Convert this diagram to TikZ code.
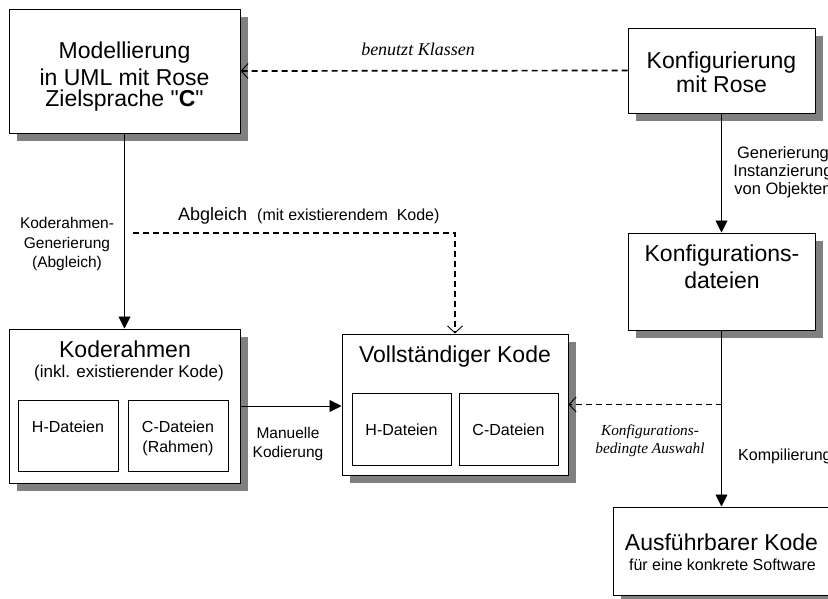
\documentclass[tikz,border=0pt]{standalone}
\usepackage{fontspec}
\setmainfont{Liberation Sans}
% second family without the TeX input mapping, for straight quotes
\newfontfamily\rawsans{Liberation Sans}
\newfontfamily\serifit{Liberation Serif}[ItalicFont={Liberation Serif Italic}]
\usetikzlibrary{arrows.meta,shadows,calc}

% font sizes used in the chart
\newcommand\fsTitle{\fontsize{23}{27}\selectfont}
\newcommand\fsSub{\fontsize{17}{20}\selectfont}
\newcommand\fsFile{\fontsize{16}{19}\selectfont}
\newcommand\fsLab{\fontsize{15.5}{18}\selectfont}
\newcommand\squote{{\rawsans\symbol{34}}}

\tikzset{
  box/.style={draw, line width=1pt, fill=white, rectangle, inner sep=0pt,
    general shadow={fill=black!50, shadow xshift=8pt, shadow yshift=-8pt}},
  filebox/.style={draw, line width=0.9pt, fill=white, rectangle, inner sep=0pt},
  txt/.style={anchor=base, inner sep=0pt},
  flow/.style={line width=0.9pt, -{Triangle[length=12pt,width=12pt]}},
  uses/.style={line width=1.7pt, dash pattern=on 6pt off 4pt,
    -{Straight Barb[length=7pt,width=15pt,line width=0.9pt]}},
  ital/.style={txt, font=\serifit\itshape},
}

\begin{document}
\begin{tikzpicture}[x=1pt, y=-1pt]
\useasboundingbox (0,0) rectangle (828,598);
\clip (0,0) rectangle (828,598);

% ---------- boxes ----------
\node[box, minimum width=231pt, minimum height=124pt] (mod) at (124.5,71) {};
\node[box, minimum width=187pt, minimum height=85pt] (konf) at (721.5,70.5) {};
\node[box, minimum width=187pt, minimum height=97pt] (kdat) at (721.5,281.5) {};
\node[box, minimum width=231pt, minimum height=154pt] (kr) at (124.5,406) {};
\node[box, minimum width=226pt, minimum height=141pt] (vk) at (455,404.5) {};
\node[box, minimum width=219pt, minimum height=88pt] (aus) at (722.5,551) {};

\node[filebox, minimum width=100pt, minimum height=71pt] (krh) at (68,435.5) {};
\node[filebox, minimum width=100pt, minimum height=71pt] (krc) at (178,435.5) {};
\node[filebox, minimum width=99pt, minimum height=72pt] (vkh) at (401.5,429) {};
\node[filebox, minimum width=99pt, minimum height=72pt] (vkc) at (508.5,429) {};

% ---------- box texts ----------
\node[txt, font=\fsTitle] (mod1) at (124.5,58) {Modellierung};
\node[txt, font=\fsTitle] (mod2) at (124.5,85) {in UML mit Rose};
\node[txt, font=\fsTitle] (mod3) at (124.5,106.5) {Zielsprache \squote\textbf{C}\squote};

\node[txt, font=\fsTitle] (konf1) at (721.5,68) {Konfigurierung};
\node[txt, font=\fsTitle] (konf2) at (721.5,92) {mit Rose};

\node[txt, font=\fsTitle] (kdat1) at (722,261) {Konfigurations-};
\node[txt, font=\fsTitle] (kdat2) at (722,288) {dateien};

\node[txt, font=\fsTitle] (kr1) at (125,357) {Koderahmen};
\node[txt, font=\fsSub] (kr2) at (129,377) {(inkl. existierender Kode)};
\node[txt, font=\fsFile] (krh1) at (68,432) {H-Dateien};
\node[txt, font=\fsFile] (krc1) at (178,432) {C-Dateien};
\node[txt, font=\fsFile] (krc2) at (178,452) {(Rahmen)};

\node[txt, font=\fsTitle] (vk1) at (455,362) {Vollständiger Kode};
\node[txt, font=\fsFile] (vkh1) at (401.5,435) {H-Dateien};
\node[txt, font=\fsFile] (vkc1) at (508.5,435) {C-Dateien};

\node[txt, font=\fsTitle] (aus1) at (721.5,550) {Ausführbarer Kode};
\node[txt, font=\fsFile] (aus2) at (722.5,570) {für eine konkrete Software};

% ---------- connectors ----------
\draw[uses] (konf.west) -- (mod.east);
\draw[flow] (mod.south) -- (kr.north);
\coordinate (abg) at (133,233);
\draw[uses] (abg) -| (vk.north);
\draw[flow] (kr.east) -- (kr.east -| vk.west);
\draw[flow] (konf.south) -- (kdat.north);
\draw[flow] (kdat.south) -- (kdat.south |- aus.north);
\coordinate (tap) at (kdat.south |- vk.east);
\draw[uses] (tap) -- (vk.east);

% ---------- connector labels ----------
\node[ital, font=\serifit\itshape\fontsize{18}{21}\selectfont] (lbk) at (418,55) {benutzt Klassen};

\node[txt, font=\fsLab] (lkg1) at (67,228) {Koderahmen-};
\node[txt, font=\fsLab] (lkg2) at (67,248) {Generierung};
\node[txt, font=\fsLab] (lkg3) at (67,267) {(Abgleich)};

\node[txt, anchor=base west, font=\fontsize{18}{21}\selectfont] (labg1) at (178,220) {Abgleich};
\node[txt, anchor=base west, font=\fontsize{16}{19}\selectfont] (labg2) at (257,220) {(mit existierendem\ \ Kode)};

\node[txt, font=\fsLab] (lman1) at (288,438) {Manuelle};
\node[txt, font=\fsLab] (lman2) at (288,457) {Kodierung};

\node[txt, font=\fontsize{16.5}{19}\selectfont] (lgen1) at (783,158) {Generierung};
\node[txt, font=\fontsize{16.5}{19}\selectfont] (lgen2) at (783,176) {Instanzierung};
\node[txt, font=\fontsize{16.5}{19}\selectfont] (lgen3) at (783,194) {von Objekten};

\node[ital, font=\serifit\itshape\fontsize{15.3}{18}\selectfont] (lkb1) at (650,435) {Konfigurations-};
\node[ital, font=\serifit\itshape\fontsize{15.3}{18}\selectfont] (lkb2) at (650,453) {bedingte Auswahl};

\node[txt, anchor=base west, font=\fontsize{16}{19}\selectfont] (lkomp) at (738,460) {Kompilierung};
\end{tikzpicture}
\end{document}
